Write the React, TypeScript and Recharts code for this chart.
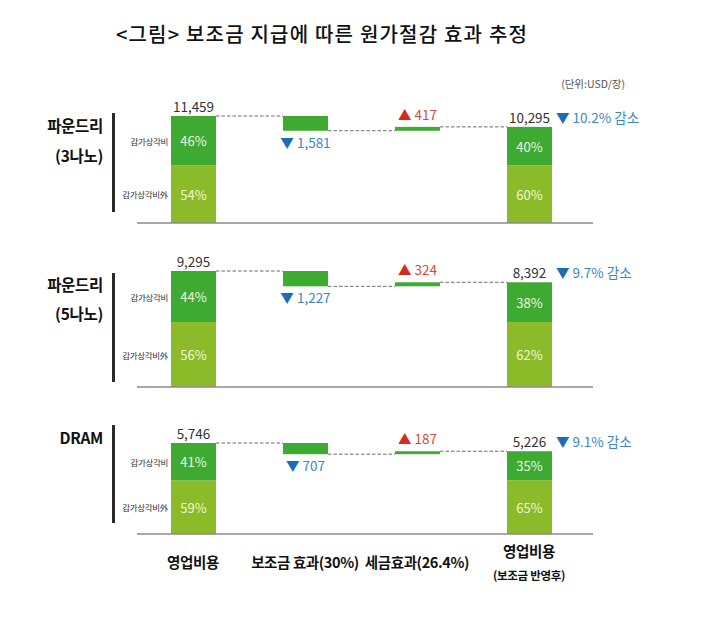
import React from 'react';
import { BarChart, Bar, XAxis, YAxis } from 'recharts';

const title = '<그림> 보조금 지급에 따른 원가절감 효과 추정';
const unitLabel = '(단위:USD/장)';
const categories = ['영업비용', '보조금 효과(30%)', '세금효과(26.4%)', '영업비용 (보조금 반영후)'];
const categoryLines = [['영업비용'], ['보조금 효과(30%)'], ['세금효과(26.4%)'], ['영업비용', '(보조금 반영후)']];
const panelNames = [['파운드리', '(3나노)'], ['파운드리', '(5나노)'], ['DRAM']];
const segmentLabels = ['감가상각비', '감가상각비外'];
const operatingCost = [11459, 9295, 5746];
const subsidyEffect = [1581, 1227, 707];
const taxEffect = [417, 324, 187];
const costAfterSubsidy = [10295, 8392, 5226];
const deprShareBefore = [46, 44, 41];
const deprShareAfter = [40, 38, 35];
const reductionPct = [10.2, 9.7, 9.1];

const FONT = '"Noto Sans CJK KR", "Noto Sans", sans-serif';
const DARK = '#3FAA31';
const LIGHT = '#8CBB29';
const BLUE_TRI = '#1C6DB5';
const BLUE_TXT = '#3D86C6';
const RED_TRI = '#D42B1B';
const RED_TXT = '#D44A3E';

const CHART_W = 705;
const M_LEFT = 137;
const M_RIGHT = 112;
const M_TOP = 26;
const PAD_R = 8;
const BAR = 45;
const BAND = (CHART_W - M_LEFT - M_RIGHT - PAD_R) / categories.length;
const GAP = BAND - BAR;

const PANELS = [
  { top: 90, plotH: 107, bottom: 20, nameY: [125, 155], vline: [113, 212] },
  { top: 245, plotH: 116, bottom: 20, nameY: [284, 313], vline: [273, 382] },
  { top: 417, plotH: 91, bottom: 60, nameY: [437], vline: [425, 523] },
];

const fmt = (v: number) => v.toLocaleString('en-US');

function buildRows(p: number) {
  const op = operatingCost[p];
  const sub = subsidyEffect[p];
  const tax = taxEffect[p];
  const fin = costAfterSubsidy[p];
  const afterSub = op - sub;
  return [
    { cat: categories[0], kind: 'total', base: 0, light: (op * (100 - deprShareBefore[p])) / 100, dark: (op * deprShareBefore[p]) / 100, total: op, share: deprShareBefore[p] },
    { cat: categories[1], kind: 'down', base: afterSub, light: 0, dark: sub, total: sub, share: 0 },
    { cat: categories[2], kind: 'up', base: afterSub, light: 0, dark: tax, total: tax, share: 0 },
    { cat: categories[3], kind: 'final', base: 0, light: (fin * (100 - deprShareAfter[p])) / 100, dark: (fin * deprShareAfter[p]) / 100, total: fin, share: deprShareAfter[p], pct: reductionPct[p] },
  ];
}

const EmptyShape = () => <g />;

const LightShape = (props: any) => {
  const { x, y, width, height, index, payload } = props;
  if (!height || height <= 0) return <g />;
  return (
    <g>
      <rect x={x} y={y} width={width} height={height} fill={LIGHT} />
      <text x={x + width / 2} y={y + height / 2} textAnchor="middle" dominantBaseline="central" fill="#F2F6D6" fontSize={13} fontFamily={FONT}>
        {100 - payload.share}%
      </text>
      {index === 0 && (
        <text x={x - 3} y={y + height / 2} textAnchor="end" dominantBaseline="central" fontSize={8.5} fill="#333" fontFamily={FONT} letterSpacing={-0.3}>
          {segmentLabels[1]}
        </text>
      )}
    </g>
  );
};

const Connector = ({ x, y }: { x: number; y: number }) => (
  <line x1={x} y1={y} x2={x + GAP} y2={y} stroke="#6b6b6b" strokeWidth={1} strokeDasharray="3.5 2" />
);

const DarkShape = (props: any) => {
  const { x, y, width, height, payload } = props;
  if (!height || height <= 0) return <g />;
  const cx = x + width / 2;
  const kind = payload.kind;
  return (
    <g>
      <rect x={x} y={y} width={width} height={height} fill={DARK} />
      {(kind === 'total' || kind === 'final') && (
        <>
          <text x={cx} y={y + height / 2} textAnchor="middle" dominantBaseline="central" fill="#EAF6E2" fontSize={13} fontFamily={FONT}>
            {payload.share}%
          </text>
          <text x={cx} y={y - 4} textAnchor="middle" fill="#333" fontSize={13.5} fontFamily={FONT}>
            {fmt(payload.total)}
          </text>
        </>
      )}
      {kind === 'total' && (
        <>
          <text x={x - 3} y={y + height / 2} textAnchor="end" dominantBaseline="central" fontSize={8.5} fill="#333" fontFamily={FONT} letterSpacing={-0.3}>
            {segmentLabels[0]}
          </text>
          <Connector x={x + width} y={y} />
        </>
      )}
      {kind === 'final' && (
        <text x={x + width + 4} y={y - 4} textAnchor="start" fontSize={13.5} fontFamily={FONT}>
          <tspan fill={BLUE_TRI}>▼</tspan>
          <tspan fill={BLUE_TXT}> {payload.pct}% 감소</tspan>
        </text>
      )}
      {kind === 'down' && (
        <>
          <text x={cx} y={y + height + 17} textAnchor="middle" fontSize={13.5} fontFamily={FONT}>
            <tspan fill={BLUE_TRI}>▼</tspan>
            <tspan fill={BLUE_TXT}> {fmt(payload.total)}</tspan>
          </text>
          <Connector x={x + width} y={y + height} />
        </>
      )}
      {kind === 'up' && (
        <>
          <text x={cx} y={y - 7} textAnchor="middle" fontSize={13.5} fontFamily={FONT}>
            <tspan fill={RED_TRI}>▲</tspan>
            <tspan fill={RED_TXT}> {fmt(payload.total)}</tspan>
          </text>
          <Connector x={x + width} y={y} />
        </>
      )}
    </g>
  );
};

const CategoryTick = (props: any) => {
  const { x, y, index } = props;
  const lines = categoryLines[index] || [];
  if (lines.length === 1) {
    return (
      <text x={x} y={y + 27} textAnchor="middle" dominantBaseline="central" fontSize={14.5} fontWeight={700} fill="#111" fontFamily={FONT} letterSpacing={-0.4}>
        {lines[0]}
      </text>
    );
  }
  return (
    <g>
      <text x={x} y={y + 16} textAnchor="middle" dominantBaseline="central" fontSize={14.5} fontWeight={700} fill="#111" fontFamily={FONT} letterSpacing={-0.4}>
        {lines[0]}
      </text>
      <text x={x} y={y + 41} textAnchor="middle" dominantBaseline="central" fontSize={11.5} fontWeight={700} fill="#111" fontFamily={FONT} letterSpacing={-0.3}>
        {lines[1]}
      </text>
    </g>
  );
};

function Panel({ p }: { p: number }) {
  const cfg = PANELS[p];
  const rows = buildRows(p);
  const maxVal = Math.max(...rows.map((r) => r.base + r.light + r.dark));
  const isLast = p === PANELS.length - 1;
  return (
    <div style={{ position: 'absolute', left: 0, top: cfg.top }}>
      <BarChart
        width={CHART_W}
        height={M_TOP + cfg.plotH + cfg.bottom}
        data={rows}
        margin={{ top: M_TOP, right: M_RIGHT, left: M_LEFT, bottom: 0 }}
        barSize={BAR}
        style={{ overflow: 'visible' }}
      >
        <XAxis
          dataKey="cat"
          height={cfg.bottom}
          padding={{ left: 0, right: PAD_R }}
          axisLine={{ stroke: '#8a8a8a', strokeWidth: 1.5 }}
          tickLine={false}
          tickSize={0}
          tickMargin={0}
          interval={0}
          tick={isLast ? (tp: any) => <CategoryTick {...tp} /> : false}
        />
        <YAxis hide type="number" domain={[0, maxVal]} />
        <Bar dataKey="base" stackId="s" shape={EmptyShape} isAnimationActive={false} />
        <Bar dataKey="light" stackId="s" shape={LightShape} isAnimationActive={false} />
        <Bar dataKey="dark" stackId="s" shape={DarkShape} isAnimationActive={false} />
      </BarChart>
    </div>
  );
}

export default function App() {
  return (
    <div style={{ position: 'absolute', left: 0, top: 0, width: 705, height: 625, background: '#fff', fontFamily: FONT }}>
      <div style={{ position: 'absolute', left: 0, width: 644, top: 21, textAlign: 'center', fontSize: 20, fontWeight: 500, color: '#111', lineHeight: '26px', letterSpacing: 1.2 }}>
        {title}
      </div>
      <div style={{ position: 'absolute', right: 80, top: 77, fontSize: 10.5, color: '#555', lineHeight: '14px' }}>{unitLabel}</div>
      {PANELS.map((cfg, p) => (
        <React.Fragment key={p}>
          {panelNames[p].map((name, i) => (
            <div
              key={i}
              style={{ position: 'absolute', right: 705 - 103, top: cfg.nameY[i] - 11, fontSize: 15.5, fontWeight: 700, color: '#111', lineHeight: '22px', whiteSpace: 'nowrap', letterSpacing: -0.3 }}
            >
              {name}
            </div>
          ))}
          <div style={{ position: 'absolute', left: 112, top: cfg.vline[0], width: 3, height: cfg.vline[1] - cfg.vline[0], background: '#2a2a2a' }} />
          <Panel p={p} />
        </React.Fragment>
      ))}
    </div>
  );
}
